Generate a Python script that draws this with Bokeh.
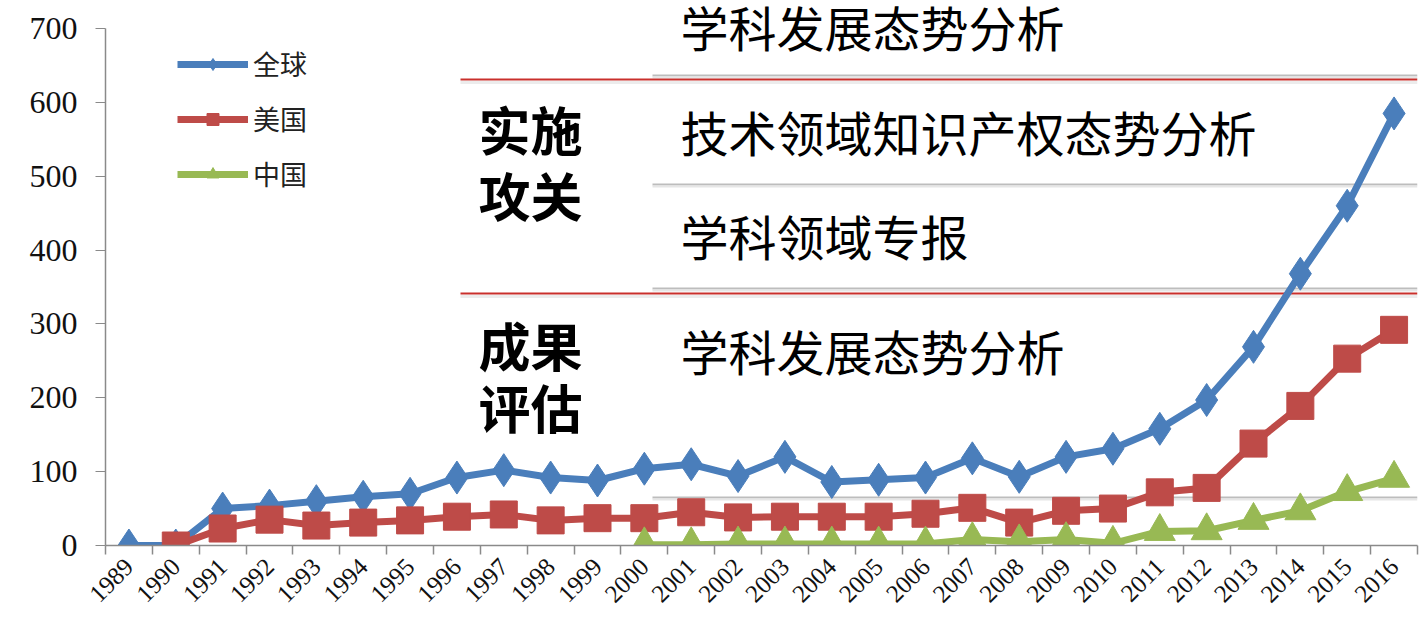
import math
from bokeh.plotting import figure
from bokeh.models import (ColumnDataSource, FixedTicker, Legend, LegendItem, Label)
from bokeh.embed import file_html
from bokeh.resources import INLINE

# ---------------- data ----------------
years = list(range(1989, 2017))
global_vals = [0, 0, 50, 54, 60, 66, 70, 92, 102, 92, 88, 104, 110, 94, 120, 86,
               89, 92, 118, 93, 120, 131, 158, 197, 269, 368, 460, 585]
us_vals = [None, 0, 23, 35, 27, 31, 34, 39, 42, 34, 37, 37, 45, 38, 39, 39,
           39, 43, 51, 31, 47, 50, 72, 78, 138, 189, 253, 292]
cn_vals = [None] * 11 + [1, 1, 2, 2, 2, 2, 2, 8, 5, 8, 3, 19, 20, 34, 47, 73, 91]
series_names = ["全球", "美国", "中国"]
y_ticks = [0, 100, 200, 300, 400, 500, 600, 700]

# overlay slide texts
stage_labels = [["实施", "攻关"], ["成果", "评估"]]
task_labels = ["学科发展态势分析", "技术领域知识产权态势分析", "学科领域专报", "学科发展态势分析"]

nan = float("nan")
idx = list(range(len(years)))
src = ColumnDataSource(dict(
    x=idx,
    g=[nan if v is None else v for v in global_vals],
    u=[nan if v is None else v for v in us_vals],
    c=[nan if v is None else v for v in cn_vals],
))

W, H = 1420, 630
FL, FR, Y700, FB = 105, 1417, 28, 545   # pixel of value 700 and of value 0

def px2x(px):
    return -0.5 + (px - FL) * len(years) / (FR - FL)
def py2y(py):
    return (FB - py) * 700.0 / (FB - Y700)

p = figure(width=W, height=H, output_backend="svg", toolbar_location=None,
           x_range=(-0.5, len(years) - 0.5), y_range=(0, py2y(0)),
           min_border_left=FL, min_border_right=W - FR, min_border_top=0,
           min_border_bottom=H - FB)
p.outline_line_color = None
p.xgrid.visible = False
p.ygrid.visible = False
p.background_fill_color = "white"

# ---- slide decorations (under the data) ----
gray = "#bdbdbd"
for py in [75, 184, 288, 497]:
    p.segment(x0=px2x(652), y0=py2y(py), x1=px2x(1417), y1=py2y(py),
              line_color=gray, line_width=2)
    p.segment(x0=px2x(652), y0=py2y(py + 2), x1=px2x(1417), y1=py2y(py + 2),
              line_color="#e6e6e6", line_width=2)
for py in [79, 293]:
    p.segment(x0=px2x(460), y0=py2y(py), x1=px2x(1417), y1=py2y(py),
              line_color="#c9302c", line_width=2)
    p.segment(x0=px2x(460), y0=py2y(py + 3), x1=px2x(1417), y1=py2y(py + 3),
              line_color="#ececec", line_width=3)

# ---- data series ----
blue, red, green = "#4A7EBB", "#BE4B48", "#98B954"
lg = p.line("x", "g", source=src, line_color=blue, line_width=7)
lu = p.line("x", "u", source=src, line_color=red, line_width=7)
lc = p.line("x", "c", source=src, line_color=green, line_width=7)
sg = p.scatter("x", "g", source=src, marker="diamond", size=33, fill_color=blue, line_color=blue)
su = p.scatter("x", "u", source=src, marker="square", size=27, fill_color=red, line_color=red)
sc = p.scatter("x", "c", source=src, marker="triangle", size=31, fill_color=green, line_color=green)

# ---- axes ----
ya = p.yaxis[0]
ya.ticker = FixedTicker(ticks=y_ticks)
ya.bounds = (0, 700)
ya.axis_line_color = "#8a8a8a"
ya.axis_line_width = 1.5
ya.major_tick_line_color = "#8a8a8a"
ya.major_tick_out = 10
ya.major_tick_in = 0
ya.minor_tick_line_color = None
ya.major_label_text_font = "Liberation Serif"
ya.major_label_text_font_size = "32px"
ya.major_label_text_color = "#111111"
ya.major_label_standoff = 18

xa = p.xaxis[0]
xa.ticker = FixedTicker(ticks=idx, minor_ticks=[i - 0.5 for i in range(len(years) + 1)])
xa.major_label_overrides = {i: str(y) for i, y in zip(idx, years)}
xa.axis_line_color = "#8a8a8a"
xa.axis_line_width = 1.5
xa.major_tick_line_color = None
xa.minor_tick_line_color = "#8a8a8a"
xa.minor_tick_line_width = 1.5
xa.minor_tick_out = 9
xa.minor_tick_in = 0
xa.major_label_orientation = math.pi / 4
xa.major_label_text_font = "Liberation Serif"
xa.major_label_text_font_size = "25px"
xa.major_label_text_color = "#111111"
xa.major_label_standoff = 8

# ---- legend ----
legend = Legend(items=[
    LegendItem(label=series_names[0], renderers=[lg, sg]),
    LegendItem(label=series_names[1], renderers=[lu, su]),
    LegendItem(label=series_names[2], renderers=[lc, sc]),
], location=(72, 352))
legend.label_text_font = "Noto Sans CJK SC"
legend.label_text_font_size = "27px"
legend.label_text_color = "#222222"
legend.glyph_width = 71
legend.glyph_height = 30
legend.label_height = 30
legend.label_standoff = 5
legend.spacing = 16
legend.padding = 0
legend.margin = 0
legend.border_line_color = None
legend.background_fill_alpha = 0
p.add_layout(legend)

# ---- overlay slide text ----
bold_pos = [(478, 128), (478, 194), (478, 344), (478, 406)]
bold_txt = [stage_labels[0][0], stage_labels[0][1], stage_labels[1][0], stage_labels[1][1]]
for (px, py), t in zip(bold_pos, bold_txt):
    p.add_layout(Label(x=px2x(px), y=py2y(py), text=t, text_baseline="middle",
                       text_align="left", text_font="Noto Sans CJK SC",
                       text_font_style="bold", text_font_size="52px",
                       text_color="black"))
task_pos = [(680, 25), (680, 130), (680, 234), (680, 349)]
for (px, py), t in zip(task_pos, task_labels):
    p.add_layout(Label(x=px2x(px), y=py2y(py), text=t, text_baseline="middle",
                       text_align="left", text_font="Noto Sans CJK SC",
                       text_font_size="48px", text_line_height=1.0,
                       text_color="black"))

open("out.html", "w").write(file_html(p, INLINE))
